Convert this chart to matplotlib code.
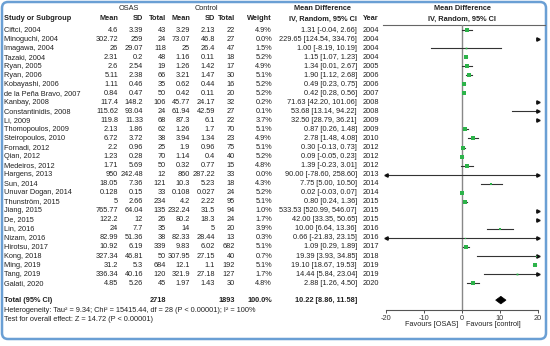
import matplotlib
matplotlib.use('Agg')
import matplotlib.pyplot as plt
from matplotlib.patches import FancyBboxPatch, Polygon

plt.rcParams['font.family'] = ['Liberation Sans', 'DejaVu Sans']

studies = ['Ciftci, 2004', 'Minoguchi, 2004', 'Imagawa, 2004', 'Tazaki, 2004', 'Ryan, 2005',
           'Ryan, 2006', 'Kobayashi, 2006', 'de la Peña Bravo, 2007', 'Kanbay, 2008',
           'Constantinidis, 2008', 'Li, 2009', 'Thomopoulos, 2009', 'Steiropoulos, 2010',
           'Fornadi, 2012', 'Qian, 2012', 'Medeiros, 2012', 'Hargens, 2013', 'Sun, 2014',
           'Unuvar Dogan, 2014', 'Thunström, 2015', 'Jiang, 2015', 'De, 2015', 'Lin, 2016',
           'Nizam, 2016', 'Hirotsu, 2017', 'Kong, 2018', 'Ming, 2019', 'Tang, 2019', 'Galati, 2020']
osas_mean = [4.6, 302.72, 26, 2.31, 2.6, 5.11, 1.11, 0.84, 117.4, 115.62, 119.8, 2.13, 6.72,
             2.2, 1.23, 1.71, 950, 18.05, 0.128, 5, 765.77, 122.2, 24, 82.99, 10.92, 327.34,
             31.2, 336.34, 4.85]
osas_sd = [3.39, 259, 29.07, 0.2, 2.54, 2.38, 0.46, 0.47, 148.2, 93.04, 11.33, 1.86, 3.72,
           0.96, 0.28, 5.69, 242.48, 7.36, 0.15, 2.66, 64.04, 12, 7.7, 51.36, 6.19, 46.81,
           5.3, 40.16, 5.26]
osas_n = [43, 24, 118, 48, 19, 66, 35, 50, 106, 24, 68, 62, 38, 25, 70, 50, 12, 121, 33, 234,
          135, 26, 35, 38, 339, 50, 684, 120, 45]
ctrl_mean = [3.29, 73.07, 25, 1.16, 1.26, 3.21, 0.62, 0.42, 45.77, 61.94, 87.3, 1.26, 3.94,
             1.9, 1.14, 0.32, 860, 10.3, 0.108, 4.2, 232.24, 80.2, 14, 82.33, 9.83, 307.95,
             12.1, 321.9, 1.97]
ctrl_sd = [2.13, 46.8, 26.4, 0.11, 1.42, 1.47, 0.44, 0.11, 24.17, 42.59, 6.1, 1.7, 1.34,
           0.96, 0.4, 0.77, 287.22, 5.23, 0.027, 2.22, 31.5, 18.3, 5, 28.44, 6.02, 27.15,
           1.1, 27.18, 1.43]
ctrl_n = [22, 27, 47, 18, 17, 30, 16, 20, 32, 27, 22, 70, 23, 75, 40, 15, 33, 18, 24, 95,
          94, 24, 20, 13, 682, 40, 192, 127, 30]
weight = [4.9, 0.0, 1.5, 5.2, 4.9, 5.1, 5.2, 5.2, 0.2, 0.1, 3.7, 5.1, 4.9, 5.1, 5.2, 4.8,
          0.0, 4.3, 5.2, 5.1, 1.0, 1.7, 3.9, 0.3, 5.1, 0.7, 5.1, 1.7, 4.8]
md = [1.31, 229.65, 1.00, 1.15, 1.34, 1.90, 0.49, 0.42, 71.63, 53.68, 32.50, 0.87, 2.78,
      0.30, 0.09, 1.39, 90.00, 7.75, 0.02, 0.80, 533.53, 42.00, 10.00, 0.66, 1.09, 19.39,
      19.10, 14.44, 2.88]
ci_lo = [-0.04, 124.54, -8.19, 1.07, 0.01, 1.12, 0.23, 0.28, 42.20, 13.14, 28.79, 0.26, 1.48,
         -0.13, -0.05, -0.23, -78.60, 5.00, -0.03, 0.24, 520.99, 33.35, 6.64, -21.83, 0.29,
         3.93, 18.67, 5.84, 1.26]
ci_hi = [2.66, 334.76, 10.19, 1.23, 2.67, 2.68, 0.75, 0.56, 101.06, 94.22, 36.21, 1.48, 4.08,
         0.73, 0.23, 3.01, 258.60, 10.50, 0.07, 1.36, 546.07, 50.65, 13.36, 23.15, 1.89,
         34.85, 19.53, 23.04, 4.50]
years = [2004, 2004, 2004, 2004, 2005, 2006, 2006, 2007, 2008, 2008, 2009, 2009, 2010, 2012,
         2012, 2012, 2013, 2014, 2014, 2015, 2015, 2015, 2016, 2016, 2017, 2018, 2019, 2019, 2020]

total_osas = 2718
total_ctrl = 1893
total_md, total_lo, total_hi = 10.22, 8.86, 11.58
het_text = 'Heterogeneity: Tau² = 9.34; Chi² = 15415.44, df = 28 (P < 0.00001); I² = 100%'
test_text = 'Test for overall effect: Z = 14.72 (P < 0.00001)'
xticks = [-20, -10, 0, 10, 20]

fs = 5.3
tc = '#222222'
green = '#2db34a'

fig = plt.figure(figsize=(5.5, 3.46), dpi=100)
tab = fig.add_axes([0, 0, 1, 1])
tab.set_xlim(0, 550)
tab.set_ylim(346, 0)
tab.axis('off')

# frame
tab.add_patch(FancyBboxPatch((2, 2), 544, 337, boxstyle='round,pad=0,rounding_size=6',
                             ec='#6a9fd4', fc='none', lw=1.8))

# column right edges
c_om, c_osd, c_on = 118, 143, 166
c_cm, c_csd, c_cn = 190, 215, 235
c_w, c_md, c_yr = 272, 357, 379

b = dict(fontsize=fs, color=tc, fontweight='bold', va='center')
n = dict(fontsize=fs, color=tc, va='center')
tab.text(129, 8, 'OSAS', ha='center', **n)
tab.text(206, 8, 'Control', ha='center', **n)
tab.text(322, 8, 'Mean Difference', ha='center', **b)
tab.text(462, 8, 'Mean Difference', ha='center', **b)
tab.text(4, 19, 'Study or Subgroup', ha='left', **b)
for x, lab in [(c_om, 'Mean'), (c_osd, 'SD'), (c_on, 'Total'), (c_cm, 'Mean'), (c_csd, 'SD'),
               (c_cn, 'Total'), (c_w, 'Weight'), (c_md, 'IV, Random, 95% CI'), (c_yr, 'Year')]:
    tab.text(x, 19, lab, ha='right', **b)
tab.text(462, 19, 'IV, Random, 95% CI', ha='center', **b)
tab.plot([383, 545], [24.5, 24.5], color='#666666', lw=0.8)

top, step = 30, 9.04
rows = [top + i * step for i in range(len(studies))]

for i, y in enumerate(rows):
    tab.text(4, y, studies[i], ha='left', **n)
    tab.text(c_om, y, f'{osas_mean[i]:g}', ha='right', **n)
    tab.text(c_osd, y, f'{osas_sd[i]:g}', ha='right', **n)
    tab.text(c_on, y, f'{osas_n[i]}', ha='right', **n)
    tab.text(c_cm, y, f'{ctrl_mean[i]:g}', ha='right', **n)
    tab.text(c_csd, y, f'{ctrl_sd[i]:g}', ha='right', **n)
    tab.text(c_cn, y, f'{ctrl_n[i]}', ha='right', **n)
    tab.text(c_w, y, f'{weight[i]:.1f}%', ha='right', **n)
    tab.text(c_md, y, f'{md[i]:.2f} [{ci_lo[i]:.2f}, {ci_hi[i]:.2f}]', ha='right', **n)
    tab.text(c_yr, y, f'{years[i]}', ha='right', **n)

ty = rows[-1] + 17
tab.text(4, ty, 'Total (95% CI)', ha='left', **b)
tab.text(c_on, ty, f'{total_osas}', ha='right', **b)
tab.text(c_cn, ty, f'{total_ctrl}', ha='right', **b)
tab.text(c_w, ty, '100.0%', ha='right', **b)
tab.text(c_md, ty, f'{total_md:.2f} [{total_lo:.2f}, {total_hi:.2f}]', ha='right', **b)
tab.text(4, ty + 10, het_text, ha='left', **n)
tab.text(4, ty + 19, test_text, ha='left', **n)
tab.text(458, 325, 'Favours [OSAS]', ha='right', **n)
tab.text(466, 325, 'Favours [control]', ha='left', **n)

# forest panel
ax_bot = 310
fa = fig.add_axes([386 / 550, 1 - ax_bot / 346, 152 / 550, (ax_bot - 24.5) / 346])
fa.patch.set_alpha(0)
fa.set_xlim(-20, 20)
fa.set_ylim(ax_bot, 24.5)
for s in ['top', 'left', 'right']:
    fa.spines[s].set_visible(False)
fa.spines['bottom'].set_color('#555555')
fa.spines['bottom'].set_linewidth(0.8)
fa.set_yticks([])
fa.set_xticks(xticks)
fa.set_xticklabels([str(t) for t in xticks])
fa.tick_params(axis='x', labelsize=fs, length=2.5, width=0.6, pad=1, colors='#333333')
fa.axvline(0, color='#888888', lw=1.0, zorder=1)

for i, y in enumerate(rows):
    lo, hi = max(ci_lo[i], -20), min(ci_hi[i], 20)
    if lo < hi:
        fa.plot([lo, hi], [y, y], color='#333333', lw=0.8, zorder=2)
    if ci_lo[i] < -20:
        fa.plot(-20, y, marker='<', color='#111111', ms=2.4, clip_on=False, zorder=3)
    if ci_hi[i] > 20:
        fa.plot(20, y, marker='>', color='#111111', ms=2.4, clip_on=False, zorder=3)
    if -20 <= md[i] <= 20:
        fa.plot(md[i], y, marker='s', color=green, ms=max(1.0 * weight[i] ** 0.5, 0.9),
                mew=0, zorder=4)

fa.add_patch(Polygon([(total_lo, ty), (total_md, ty - 3.8), (total_hi, ty), (total_md, ty + 3.8)],
                     closed=True, fc='black', ec='black', lw=0.5, zorder=5))

fig.savefig('out.png', dpi=100)
